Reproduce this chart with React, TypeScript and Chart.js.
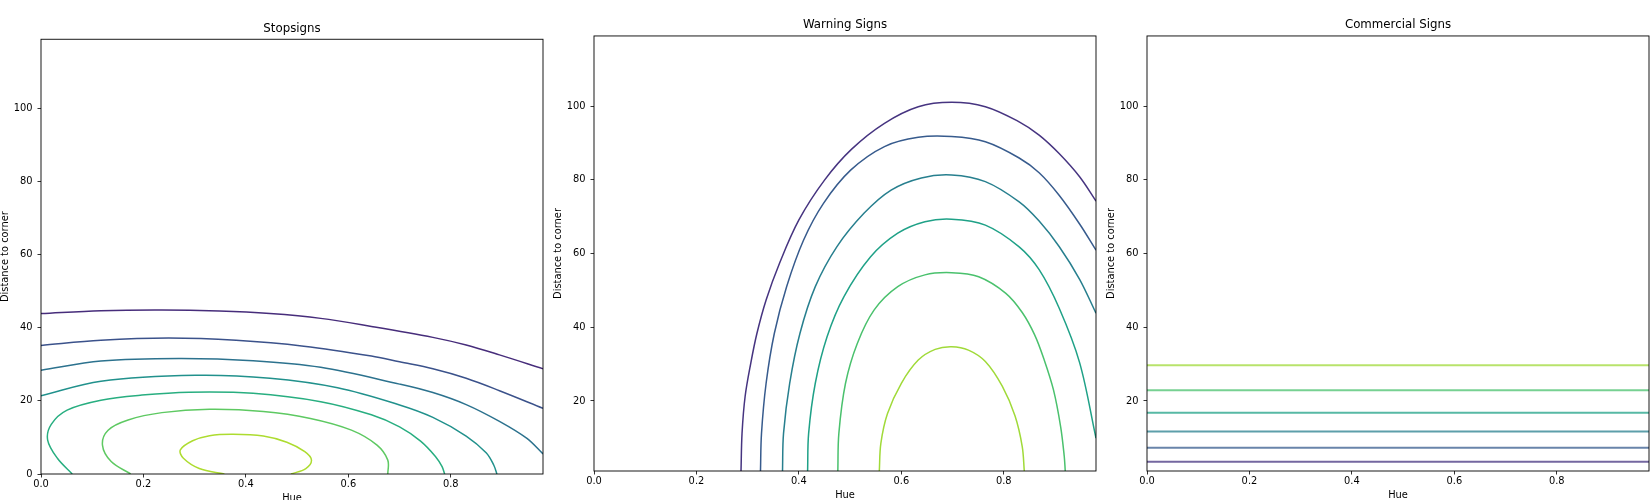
import { useEffect, useRef } from "react"
import { Chart, registerables } from "chart.js"

Chart.register(...registerables)

const FONT = "'DejaVu Sans', 'Liberation Sans', sans-serif"

// ticks shown on the axes
const xTicks = [0, 0.2, 0.4, 0.6, 0.8]
const stopYTicks = [0, 20, 40, 60, 80, 100]
const signYTicks = [20, 40, 60, 80, 100]
const hueRange = [0, 0.98]

// viridis contour colours (outer -> inner level)
const stopColors = ["#472d7b", "#3b528b", "#2c728e", "#21918c", "#28ae80", "#5ec962", "#addc30"]
const signColors = ["#463480", "#375b8d", "#277f8e", "#1fa187", "#4ac16d", "#a0da39"]

// Stopsigns contours, [hue, distance]
const stopLevel1 = [[0, 43.9], [0.117, 44.7], [0.236, 44.9], [0.348, 44.6], [0.447, 43.9], [0.546, 42.6], [0.645, 40.4], [0.765, 37.4], [0.83, 35.3], [0.895, 32.6], [0.98, 28.8]]
const stopLevel2 = [[0, 35.2], [0.117, 36.6], [0.249, 37.2], [0.381, 36.6], [0.513, 35.0], [0.645, 32.3], [0.7, 30.7], [0.765, 28.8], [0.83, 26.2], [0.895, 22.8], [0.98, 18.0]]
const stopLevel3 = [[0, 28.4], [0.117, 30.9], [0.269, 31.6], [0.414, 31.0], [0.546, 29.2], [0.7, 24.6], [0.765, 22.3], [0.83, 19.0], [0.895, 14.4], [0.948, 9.8], [0.98, 5.5]]
const stopLevel4 = [[0, 21.4], [0.117, 25.4], [0.302, 27.0], [0.447, 26.2], [0.579, 23.6], [0.7, 18.9], [0.765, 15.5], [0.83, 10.4], [0.869, 5.8], [0.884, 2.4], [0.89, 0]]
const stopLevel5 = [[0.061, 0], [0.032, 4.3], [0.013, 9.3], [0.02, 13.6], [0.051, 17.5], [0.117, 20.2], [0.197, 21.6], [0.289, 22.4], [0.414, 22.1], [0.546, 19.8], [0.645, 16.2], [0.7, 12.9], [0.741, 9.0], [0.77, 4.8], [0.783, 2.0], [0.788, 0]]
const stopLevel6 = [[0.175, 0], [0.137, 3.4], [0.12, 7.9], [0.131, 12.0], [0.17, 14.8], [0.236, 16.8], [0.329, 17.7], [0.434, 17.1], [0.526, 15.2], [0.606, 12.0], [0.656, 7.9], [0.677, 3.8], [0.677, 0]]
const stopLevel7 = [[0.358, 0], [0.309, 1.5], [0.278, 4.3], [0.272, 6.6], [0.296, 9.1], [0.329, 10.5], [0.375, 10.9], [0.434, 10.4], [0.48, 8.7], [0.515, 6.1], [0.528, 3.8], [0.517, 1.5], [0.488, 0]]

// Warning Signs contours
const warnLevel1 = [[0.287, 1.0], [0.289, 11.2], [0.295, 21.2], [0.306, 30.2], [0.318, 38.3], [0.336, 47.4], [0.362, 57.3], [0.4, 69.1], [0.45, 79.9], [0.503, 88.3], [0.567, 95.3], [0.633, 99.8], [0.698, 101.0], [0.764, 99.8], [0.83, 95.7], [0.869, 92.1], [0.908, 87.1], [0.948, 80.8], [0.98, 74.2]]
const warnLevel2 = [[0.325, 1.0], [0.327, 11.2], [0.336, 24.8], [0.352, 38.3], [0.376, 51.0], [0.409, 63.6], [0.448, 73.6], [0.501, 82.6], [0.567, 89.0], [0.633, 91.5], [0.698, 91.7], [0.764, 90.3], [0.83, 85.9], [0.869, 81.9], [0.908, 75.8], [0.948, 68.0], [0.98, 60.9]]
const warnLevel3 = [[0.368, 1.0], [0.37, 11.2], [0.382, 24.8], [0.402, 38.3], [0.432, 51.0], [0.474, 61.8], [0.527, 70.9], [0.58, 77.2], [0.639, 80.5], [0.698, 81.3], [0.764, 79.5], [0.83, 74.0], [0.869, 68.8], [0.908, 61.9], [0.948, 53.0], [0.98, 43.8]]
const warnLevel4 = [[0.417, 1.0], [0.419, 11.2], [0.432, 24.8], [0.455, 37.4], [0.488, 48.3], [0.54, 59.1], [0.593, 65.5], [0.646, 68.6], [0.698, 69.3], [0.764, 67.7], [0.83, 61.8], [0.869, 55.6], [0.908, 45.2], [0.948, 30.4], [0.98, 9.9]]
const warnLevel5 = [[0.476, 1.0], [0.478, 11.2], [0.491, 24.8], [0.514, 35.6], [0.547, 44.7], [0.593, 51.0], [0.646, 54.2], [0.698, 54.8], [0.751, 53.7], [0.804, 49.2], [0.836, 44.0], [0.86, 38.0], [0.878, 31.5], [0.897, 23.0], [0.911, 13.0], [0.918, 5.0], [0.92, 1.0]]
const warnLevel6 = [[0.557, 1.0], [0.56, 8.5], [0.573, 16.6], [0.6, 24.8], [0.633, 31.1], [0.666, 34.0], [0.698, 34.7], [0.731, 33.8], [0.764, 30.7], [0.797, 24.0], [0.822, 15.9], [0.836, 7.6], [0.84, 1.0]]

// Commercial Signs: flat contours, distance of each level
const commercialLevels = [3.5, 7.3, 11.7, 16.8, 22.9, 29.7]

const Y_AXIS_W = 41
const PLOT_W = 502
const RIGHT_PAD = 6
const CANVAS_H = 520

interface ContourLine {
  points: number[][]
  color: string
  width: number
}

interface PanelProps {
  title: string
  lines: ContourLine[]
  yMin: number
  yMax: number
  yTicks: number[]
  left: number
  titlePad: { top: number; bottom: number }
  xAxisH: number
  hueTitlePad: number
}

function withAlpha(hex: string, a: number) {
  const n = parseInt(hex.slice(1), 16)
  return `rgba(${(n >> 16) & 255}, ${(n >> 8) & 255}, ${n & 255}, ${a})`
}

// matplotlib-style box around the axes
const framePlugin = {
  id: "frame",
  afterDraw(chart: Chart) {
    const { ctx, chartArea } = chart
    ctx.save()
    ctx.strokeStyle = "#000"
    ctx.lineWidth = 0.9
    ctx.strokeRect(chartArea.left, chartArea.top, chartArea.right - chartArea.left, chartArea.bottom - chartArea.top)
    ctx.restore()
  },
}

function ContourPanel({ title, lines, yMin, yMax, yTicks, left, titlePad, xAxisH, hueTitlePad }: PanelProps) {
  const chartRef = useRef<HTMLCanvasElement>(null)
  const chartInstance = useRef<Chart | null>(null)

  useEffect(() => {
    if (!chartRef.current) return
    if (chartInstance.current) chartInstance.current.destroy()

    const tickFont = { family: FONT, size: 9.85 }
    const grid = {
      drawOnChartArea: false,
      drawTicks: true,
      tickLength: 3.5,
      tickColor: "#000",
      tickWidth: 0.8,
      color: "#000",
    }

    chartInstance.current = new Chart(chartRef.current, {
      type: "line",
      data: {
        datasets: lines.map((l) => ({
          data: l.points.map(([x, y]) => ({ x, y })),
          borderColor: l.color,
          borderWidth: l.width,
          pointRadius: 0,
          tension: 0.35,
          fill: false,
          clip: 0,
        })),
      },
      options: {
        responsive: false,
        animation: false,
        events: [],
        layout: { padding: { left: 0, right: RIGHT_PAD, top: 0, bottom: 0 } },
        plugins: {
          legend: { display: false },
          tooltip: { enabled: false },
          title: {
            display: true,
            text: title,
            fullSize: false,
            color: "#000",
            font: { family: FONT, size: 11.8, weight: "normal" },
            padding: titlePad,
          },
        },
        scales: {
          x: {
            type: "linear",
            min: hueRange[0],
            max: hueRange[1],
            afterBuildTicks: (s: any) => {
              s.ticks = xTicks.map((value) => ({ value }))
            },
            afterFit: (s: any) => {
              s.height = xAxisH
            },
            grid,
            border: { display: false },
            ticks: {
              color: "#000",
              font: tickFont,
              padding: 1.5,
              autoSkip: false,
              maxRotation: 0,
              callback: (v: any) => Number(v).toFixed(1),
            },
            title: {
              display: true,
              text: "Hue",
              color: "#000",
              font: tickFont,
              padding: { top: 0, bottom: hueTitlePad },
            },
          },
          y: {
            type: "linear",
            min: yMin,
            max: yMax,
            afterBuildTicks: (s: any) => {
              s.ticks = yTicks.map((value) => ({ value }))
            },
            afterFit: (s: any) => {
              s.width = Y_AXIS_W
            },
            grid,
            border: { display: false },
            ticks: {
              color: "#000",
              font: tickFont,
              padding: 5,
              autoSkip: false,
              callback: (v: any) => String(v),
            },
            title: {
              display: true,
              text: "Distance to corner",
              color: "#000",
              font: tickFont,
              padding: 0,
            },
          },
        },
      },
      plugins: [framePlugin],
    })

    return () => {
      if (chartInstance.current) {
        chartInstance.current.destroy()
        chartInstance.current = null
      }
    }
  }, [title, lines, yMin, yMax, yTicks, titlePad, xAxisH, hueTitlePad])

  return (
    <canvas
      ref={chartRef}
      width={Y_AXIS_W + PLOT_W + RIGHT_PAD}
      height={CANVAS_H}
      style={{ position: "absolute", left, top: 0 }}
    ></canvas>
  )
}

const stopLines: ContourLine[] = [stopLevel1, stopLevel2, stopLevel3, stopLevel4, stopLevel5, stopLevel6, stopLevel7].map(
  (points, i) => ({ points, color: stopColors[i], width: 1.5 })
)
const warnLines: ContourLine[] = [warnLevel1, warnLevel2, warnLevel3, warnLevel4, warnLevel5, warnLevel6].map(
  (points, i) => ({ points, color: signColors[i], width: 1.5 })
)
const commercialLines: ContourLine[] = commercialLevels.map((y, i) => ({
  points: hueRange.map((x) => [x, y]),
  color: withAlpha(signColors[i], 0.75),
  width: 2,
}))

const stopTitlePad = { top: 21.4, bottom: 3.7 }
const signTitlePad = { top: 18.1, bottom: 3.7 }

export default function App() {
  return (
    <div
      style={{
        position: "fixed",
        left: 0,
        top: 0,
        width: 1650,
        height: 500,
        overflow: "hidden",
        background: "#fff",
      }}
    >
      <ContourPanel
        title="Stopsigns"
        lines={stopLines}
        yMin={0}
        yMax={119}
        yTicks={stopYTicks}
        left={0}
        titlePad={stopTitlePad}
        xAxisH={46}
        hueTitlePad={15.3}
      />
      <ContourPanel
        title="Warning Signs"
        lines={warnLines}
        yMin={1}
        yMax={119}
        yTicks={signYTicks}
        left={553}
        titlePad={signTitlePad}
        xAxisH={49}
        hueTitlePad={18.3}
      />
      <ContourPanel
        title="Commercial Signs"
        lines={commercialLines}
        yMin={1}
        yMax={119}
        yTicks={signYTicks}
        left={1106}
        titlePad={signTitlePad}
        xAxisH={49}
        hueTitlePad={18.3}
      />
    </div>
  )
}
